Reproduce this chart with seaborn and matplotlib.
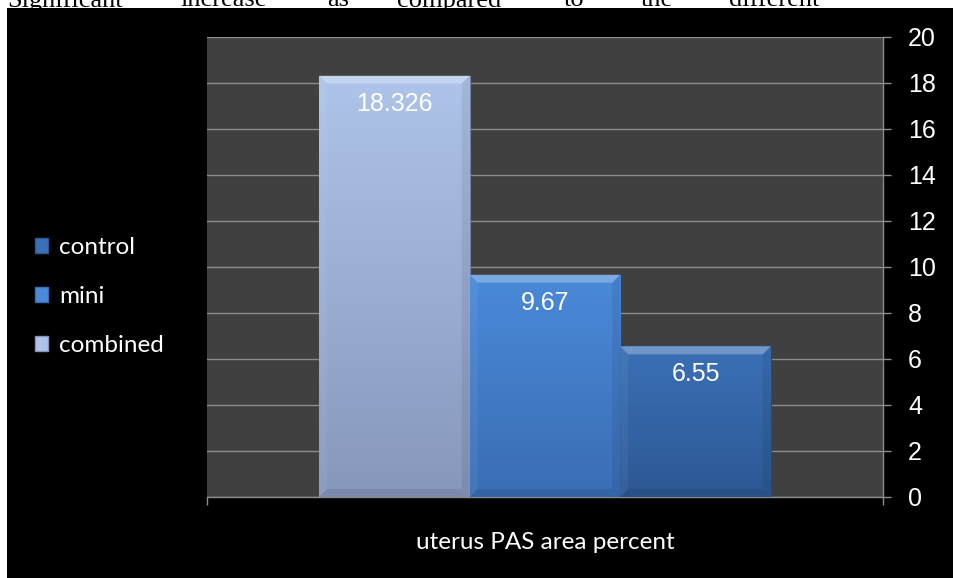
import numpy as np
import pandas as pd
import matplotlib
matplotlib.use("Agg")
import matplotlib.pyplot as plt
import seaborn as sns
from matplotlib.patches import Rectangle, Polygon, Patch
from matplotlib.colors import LinearSegmentedColormap

# ---- data ----
category = ["uterus PAS area percent"]
series = ["control", "mini", "combined"]
values = [6.55, 9.67, 18.326]
y_ticks = [0, 2, 4, 6, 8, 10, 12, 14, 16, 18, 20]
caption_words = ["Significant", "increase", "as", "compared", "to", "the", "different"]

# bar fill gradients (bottom colour, top colour) per series
bar_colors = {
    "control": ("#2c5893", "#3b70b6"),
    "mini": ("#3a6db4", "#4a8ad9"),
    "combined": ("#8797bc", "#afc4ea"),
}

sns.set_theme(style="dark")
plt.rcParams["font.family"] = ["Liberation Sans", "DejaVu Sans"]

W, H = 954, 578
fig = plt.figure(figsize=(W / 100, H / 100), dpi=100, facecolor="white")

# caption line of the surrounding text, cut off by the chart panel
caption_x = [7, 180, 327, 397, 564, 641, 729]
for word, xp in zip(caption_words, caption_x):
    fig.text(xp / W, 1 - 6.5 / H, word, family="Liberation Serif", fontsize=19,
             color="black", va="baseline", ha="left", zorder=0)

# black chart panel
fig.patches.append(Rectangle((7 / W, 0), (W - 7) / W, (H - 8) / H,
                             transform=fig.transFigure, facecolor="black",
                             edgecolor="none", zorder=1))

ax = fig.add_axes([207 / W, 81 / H, 676 / W, 460 / H], zorder=2)
ax.set_facecolor("#404040")

df = pd.DataFrame({
    "category": category * len(series),
    "series": series,
    "value": values,
})
draw_order = series[::-1]
sns.barplot(data=df, x="category", y="value", hue="series", hue_order=draw_order,
            palette={s: bar_colors[s][1] for s in series}, saturation=1,
            width=0.668, legend=False, ax=ax, zorder=3)

ax.set_xlim(-0.5, 0.5)
ax.set_ylim(0, 20)
ax.set_xlabel("")
ax.set_ylabel("")

# pixel -> data conversion for the bevel sizes
dx = 1 / 676
dy = 20 / 460
bx, by = 8 * dx, 8 * dy

for name, cont in zip(draw_order, ax.containers):
    bottom_c, top_c = bar_colors[name]
    cmap = LinearSegmentedColormap.from_list(name, [bottom_c, top_c])
    for bar, val in zip(cont.patches, [values[series.index(name)]]):
        x0 = bar.get_x()
        w = bar.get_width()
        h = bar.get_height()
        x1 = x0 + w
        bar.set_edgecolor("#24487a" if name != "combined" else "#6f7f9f")
        bar.set_linewidth(0.8)
        grad = np.linspace(0, 1, 256)[:, None]
        im = ax.imshow(grad, extent=(x0, x1, 0, h), origin="lower", aspect="auto",
                       cmap=cmap, interpolation="bicubic", zorder=3.1)
        im.set_clip_path(bar)
        # bevelled edges
        ax.add_patch(Polygon([(x0, h), (x1, h), (x1 - bx, h - by), (x0 + bx, h - by)],
                             closed=True, facecolor="white", alpha=0.28,
                             edgecolor="none", zorder=3.2))
        ax.add_patch(Polygon([(x0, h), (x0 + bx, h - by), (x0 + bx, by), (x0, 0)],
                             closed=True, facecolor="white", alpha=0.05,
                             edgecolor="none", zorder=3.2))
        ax.add_patch(Polygon([(x1, h), (x1 - bx, h - by), (x1 - bx, by), (x1, 0)],
                             closed=True, facecolor="black", alpha=0.07,
                             edgecolor="none", zorder=3.2))
        ax.add_patch(Polygon([(x0, 0), (x1, 0), (x1 - bx, by), (x0 + bx, by)],
                             closed=True, facecolor="black", alpha=0.08,
                             edgecolor="none", zorder=3.2))
        ax.annotate(str(val), xy=(x0 + w / 2, h), xytext=(0, -28),
                    textcoords="offset pixels", ha="center", va="center",
                    color="white", fontsize=18, zorder=4)

ax.set_xlim(-0.5, 0.5)
ax.set_ylim(0, 20)

# grid and axes lines
grid_c = "#8c8c8c"
ax.yaxis.grid(True, color=grid_c, linewidth=1)
ax.xaxis.grid(False)
ax.set_axisbelow(True)
for side in ["left", "top"]:
    ax.spines[side].set_visible(False)
for side in ["right", "bottom"]:
    ax.spines[side].set_visible(True)
    ax.spines[side].set_color(grid_c)
    ax.spines[side].set_linewidth(1)

ax.set_yticks(y_ticks)
ax.yaxis.tick_right()
ax.tick_params(axis="y", which="major", right=True, left=False, labelright=True,
               labelleft=False, length=6, width=1, color=grid_c,
               labelcolor="white", labelsize=18, pad=12, direction="out")

ax.set_xticks([0])
ax.set_xticklabels(category, family=["Lato", "DejaVu Sans"])
ax.set_xticks([-0.5, 0.5], minor=True)
ax.tick_params(axis="x", which="major", length=0, pad=25, labelcolor="white",
               labelsize=17.5)
ax.tick_params(axis="x", which="minor", bottom=True, length=6, width=1,
               color=grid_c, direction="out")

# legend on the left of the panel
handles = [Patch(facecolor=bar_colors[s][1], edgecolor=bar_colors[s][0]) for s in series]
fig.legend(handles, series, loc="upper left",
           bbox_to_anchor=(35 / W, 1 - 237 / H), frameon=False,
           prop={"family": ["Lato", "DejaVu Sans"], "size": 17.5},
           labelcolor="white", handlelength=0.55, handleheight=0.55,
           handletextpad=0.45, labelspacing=1.15, borderpad=0, borderaxespad=0)

fig.savefig("out.png", dpi=100, facecolor="white")
